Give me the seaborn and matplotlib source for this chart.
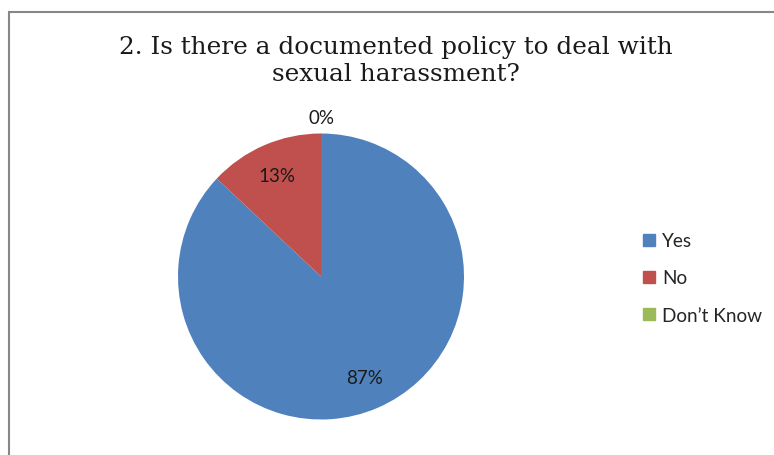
import numpy as np
import matplotlib
matplotlib.use("Agg")
import matplotlib.pyplot as plt
from matplotlib.patches import Rectangle
import seaborn as sns

# data
categories = ["Yes", "No", "Don\u2019t Know"]
values = [87, 13, 0]
colors = ["#4F81BD", "#C0504D", "#9BBB59"]
title = "2. Is there a documented policy to deal with\nsexual harassment?"

W, H = 774, 456


def draw_chart():
    sns.set_theme(style="white")
    plt.rcParams["font.family"] = ["Lato", "DejaVu Sans"]
    palette = sns.color_palette(colors)

    fig = plt.figure(figsize=(W / 100, H / 100), dpi=100)
    fig.patch.set_facecolor("white")

    # chart border (runs off the right and bottom edge)
    fig.add_artist(Rectangle((9 / W, -0.1), 1.2, 1.1 - 13 / H,
                             transform=fig.transFigure, fill=False,
                             edgecolor="#878787", linewidth=1.5))

    # pie: centre (321, 277.5) px, radius ~143 px
    cx, cy, r = 321, 277.5, 143
    ax = fig.add_axes([(cx - r) / W, (H - cy - r) / H, 2 * r / W, 2 * r / H])
    wedges, texts, autotexts = ax.pie(
        values, colors=palette, startangle=90, counterclock=False,
        autopct="%1.0f%%", pctdistance=0.77,
        wedgeprops=dict(linewidth=0),
        textprops=dict(fontsize=13.5, color="#1a1a1a"))
    ax.set_xlim(-1, 1)
    ax.set_ylim(-1, 1)
    ax.set_aspect("equal")

    # zero-size slice: put its label just outside the rim
    for w, t, v in zip(wedges, autotexts, values):
        if v == 0:
            ang = np.deg2rad(w.theta1)
            t.set_position((1.11 * np.cos(ang), 1.11 * np.sin(ang)))

    fig.text(396 / W, 1 - 81 / H, title, ha="center", va="baseline",
             fontsize=17.8, family="DejaVu Serif", linespacing=1.22,
             color="#1a1a1a")

    handles = [Rectangle((0, 0), 1, 1, color=c) for c in palette]
    fig.legend(handles, categories, loc="center left",
               bbox_to_anchor=(626 / W, 1 - 279 / H), frameon=False,
               fontsize=13.7, handlelength=0.6, handleheight=0.6,
               handletextpad=0.4, labelspacing=1.06)

    fig.savefig("out.png", dpi=100, facecolor="white")


def main():
    draw_chart()


if __name__ == "__main__":
    main()
